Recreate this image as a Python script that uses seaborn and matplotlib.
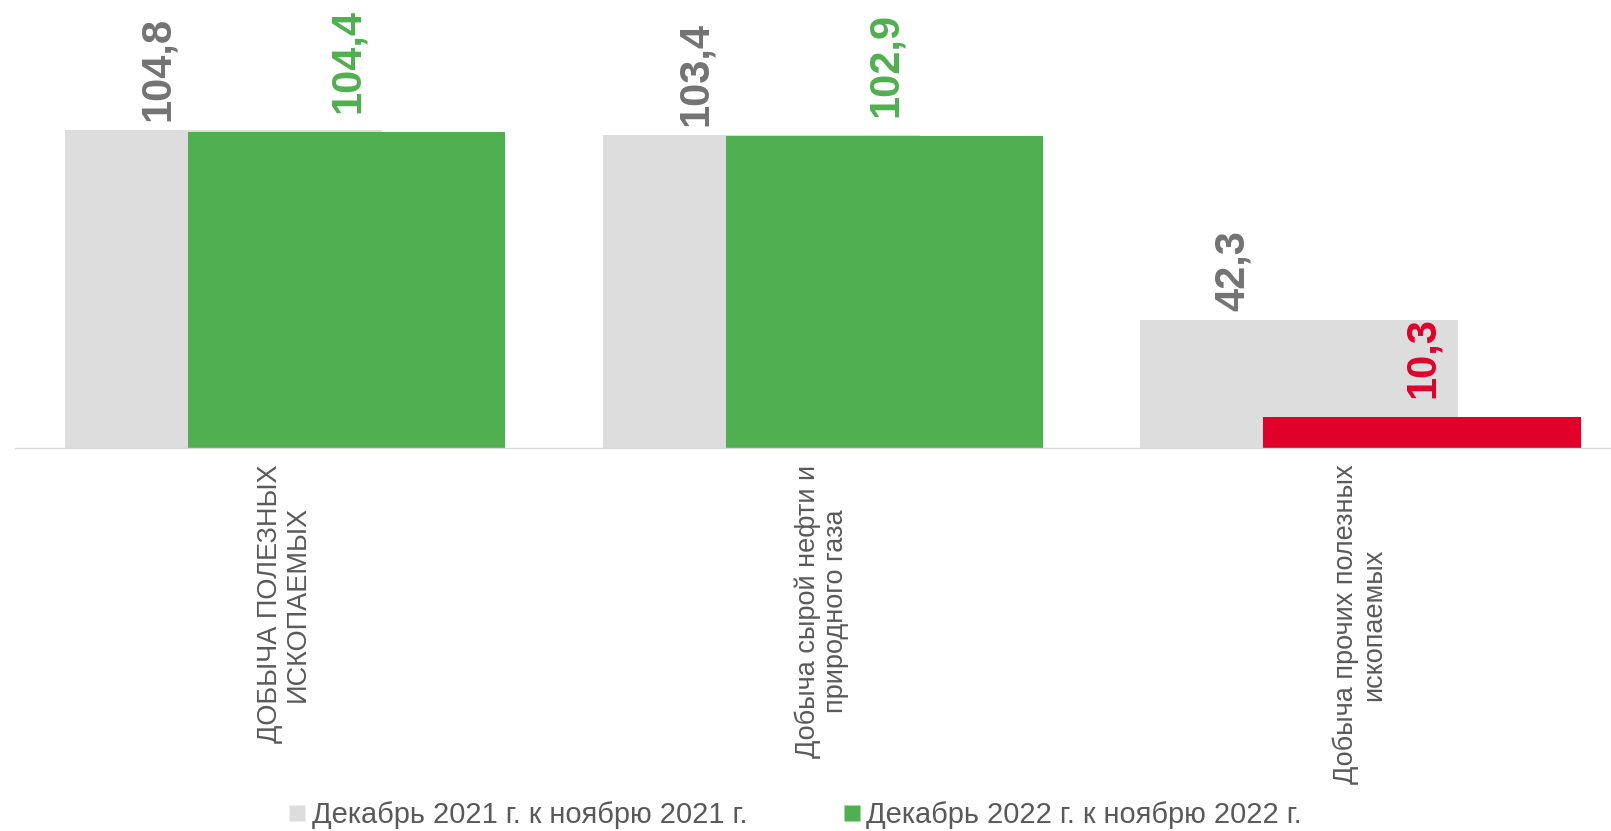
import numpy as np
import pandas as pd
import matplotlib
matplotlib.use("Agg")
import matplotlib.pyplot as plt
from matplotlib.lines import Line2D
import seaborn as sns

# data
categories = [
    "ДОБЫЧА ПОЛЕЗНЫХ\nИСКОПАЕМЫХ",
    "Добыча сырой нефти и\nприродного газа",
    "Добыча прочих полезных\nископаемых",
]
prev_year = [104.8, 103.4, 42.3]
curr_year = [104.4, 102.9, 10.3]
curr_trend = ["up", "up", "down"]
series_names = ["Декабрь 2021 г. к ноябрю 2021 г.", "Декабрь 2022 г. к ноябрю 2022 г."]

GRAY_BAR = "#DDDDDD"
GRAY_LBL = "#737373"
GREEN = "#50AF50"
RED = "#E1002A"
TXT = "#595959"
AXIS = "#D9D9D9"
trend_colors = {"up": GREEN, "down": RED}

sns.set_style("white")
plt.rcParams["font.family"] = ["Liberation Sans", "DejaVu Sans"]

idx = np.arange(len(categories))
df = pd.DataFrame({
    "pos_prev": idx - 0.113,
    "pos_curr": idx + 0.116,
    "prev": prev_year,
    "curr": curr_year,
    "trend": curr_trend,
})

fig = plt.figure(figsize=(16.11, 8.31), dpi=100)
ax = fig.add_axes([15.4 / 1611, 1 - 448 / 831, 1 - 15.4 / 1611, 448 / 831])

sns.barplot(data=df, x="pos_prev", y="prev", native_scale=True, width=0.59,
            color=GRAY_BAR, saturation=1, linewidth=0, ax=ax)
sns.barplot(data=df, x="pos_curr", y="curr", hue="trend", palette=trend_colors,
            native_scale=True, width=0.59, dodge=False, saturation=1,
            linewidth=0, legend=False, ax=ax)

# value labels
def fmt(v):
    return f"{v:.1f}".replace(".", ",")

for i, v in enumerate(prev_year):
    ax.annotate(fmt(v), (i - 0.235, v), xytext=(0, 6.5), textcoords="offset points",
                rotation=90, ha="center", va="bottom", fontsize=30,
                fontweight="bold", color=GRAY_LBL)
for i, (v, t) in enumerate(zip(curr_year, curr_trend)):
    ax.annotate(fmt(v), (i + 0.118, v), xytext=(0, 13.5), textcoords="offset points",
                rotation=90, ha="center", va="bottom", fontsize=30,
                fontweight="bold", color=trend_colors[t])

ax.set(xlabel="", ylabel="")
ax.set_yticks([])

ax.set_xticks(idx)
ax.set_xticklabels(categories)
ax.set_xticks(np.arange(len(categories) + 1) - 0.5, minor=True)
ax.tick_params(axis="x", which="major", length=0, pad=12, labelsize=19.5, labelcolor=TXT)
ax.tick_params(axis="x", which="minor", length=5.8, width=1, color=AXIS, direction="out")
for lbl in ax.get_xticklabels():
    lbl.set_rotation(90)
    lbl.set_ha("center")
    lbl.set_va("top")
    lbl.set_multialignment("center")
    lbl.set_linespacing(1.1)

# limits after the ticks, so the outer tick does not widen the view
ax.set_xlim(-0.5, (1611 - 15.4) / 537.7 - 0.5)
ax.set_ylim(0, 448 / 3.03)

for side in ["top", "left", "right"]:
    ax.spines[side].set_visible(False)
ax.spines["bottom"].set_color(AXIS)
ax.spines["bottom"].set_linewidth(1)

handles = [
    Line2D([], [], marker="s", linestyle="none", markersize=11, markerfacecolor=GRAY_BAR,
           markeredgecolor="none"),
    Line2D([], [], marker="s", linestyle="none", markersize=11, markerfacecolor=GREEN,
           markeredgecolor="none"),
]
fig.legend(handles, series_names, loc="center", bbox_to_anchor=(0.4935, 1 - 815 / 831),
           ncol=2, frameon=False, fontsize=20.9, labelcolor=TXT, handlelength=0.6,
           handletextpad=0.2, columnspacing=3.3)

fig.savefig("out.png", dpi=100)
